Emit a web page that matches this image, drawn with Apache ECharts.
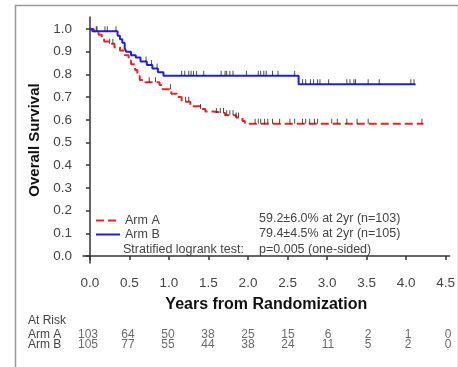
<!DOCTYPE html>
<html>
<head>
<meta charset="utf-8">
<script src="https://cdn.jsdelivr.net/npm/echarts@6/dist/echarts.min.js"></script>
<style>
  html, body { margin: 0; padding: 0; background: #fff; }
  #km { width: 458px; height: 367px; }
</style>
</head>
<body>
<div id="km"></div>
<script>
// Kaplan-Meier step points [years, survival]
var armA = [
  [0, 1], [0.05, 0.99], [0.11, 0.975], [0.15, 0.96], [0.18, 0.945], [0.25, 0.935],
  [0.31, 0.92], [0.38, 0.905], [0.44, 0.885], [0.49, 0.86], [0.52, 0.845],
  [0.57, 0.82], [0.60, 0.80], [0.63, 0.775], [0.70, 0.765], [0.88, 0.753],
  [0.92, 0.735], [1.03, 0.715], [1.10, 0.70], [1.16, 0.68], [1.27, 0.66],
  [1.40, 0.648], [1.46, 0.637], [1.56, 0.63], [1.71, 0.62], [1.85, 0.61],
  [1.93, 0.595], [1.96, 0.583], [4.22, 0.583]
];
var armB = [
  [0, 1], [0.03, 0.99], [0.35, 0.97], [0.38, 0.955], [0.41, 0.94], [0.44, 0.915],
  [0.46, 0.90], [0.52, 0.885], [0.58, 0.875], [0.64, 0.857], [0.72, 0.842],
  [0.79, 0.826], [0.86, 0.81], [0.93, 0.794], [2.64, 0.757], [4.12, 0.757]
];
// censored observation times (years)
var censorA = [0.08, 0.25, 0.29, 0.75, 0.83, 1.02, 1.21, 1.25, 1.40, 1.60, 1.65, 1.69,
  1.73, 1.77, 1.81, 1.85, 1.88, 2.09, 2.13, 2.16, 2.21, 2.25, 2.31, 2.40, 2.53, 2.59,
  2.69, 2.73, 2.78, 2.84, 2.88, 3.06, 3.13, 3.25, 3.38, 3.52, 4.20];
var censorB = [0.09, 0.19, 0.22, 0.33, 0.71, 0.78, 0.85, 1.16, 1.20, 1.25, 1.28, 1.31,
  1.35, 1.44, 1.66, 1.71, 1.73, 1.77, 1.81, 1.98, 2.13, 2.16, 2.20, 2.23, 2.31, 2.38,
  2.59, 2.69, 2.73, 2.79, 2.83, 2.88, 2.91, 3.02, 3.25, 3.29, 3.34, 3.36, 3.52, 3.66,
  4.06, 4.10];
// number at risk
var riskTimes = [0, 0.5, 1, 1.5, 2, 2.5, 3, 3.5, 4, 4.5];
var riskA = [103, 64, 50, 38, 25, 15, 6, 2, 1, 0];
var riskB = [105, 77, 55, 44, 38, 24, 11, 5, 2, 0];
var xTicks = [0, 0.5, 1, 1.5, 2, 2.5, 3, 3.5, 4, 4.5];
var yTicks = [0, 0.1, 0.2, 0.3, 0.4, 0.5, 0.6, 0.7, 0.8, 0.9, 1.0];

var font = "'Liberation Sans', Arial, sans-serif";
var axisColor = '#333';
var textColor = '#444';

function survAt(curve, t) {
  var s = curve[0][1];
  for (var i = 0; i < curve.length; i++) {
    if (curve[i][0] <= t) s = curve[i][1];
  }
  return s;
}

var chart = echarts.init(document.getElementById('km'));
var option = {
  animation: false,
  textStyle: { fontFamily: font },
  grid: [
    { left: 83, right: 4, top: 17, bottom: 104 },
    { left: 83, right: 4, top: 329, height: 21 }
  ],
  legend: {
    data: ['Arm A', 'Arm B'],
    orient: 'vertical',
    left: 90,
    top: 209,
    itemWidth: 24,
    itemHeight: 14,
    itemGap: 1,
    itemStyle: { opacity: 0 },
    textStyle: { fontSize: 12.5, color: textColor, fontFamily: font }
  },
  xAxis: [
    {
      gridIndex: 0,
      type: 'value',
      min: -0.0875,
      max: 4.55,
      axisLine: { show: true, lineStyle: { color: axisColor, width: 1.5 } },
      axisTick: { show: true, customValues: xTicks, length: 4, lineStyle: { color: axisColor, width: 1.5 } },
      axisLabel: {
        customValues: xTicks,
        formatter: function (v) { return v.toFixed(1); },
        fontSize: 13.5, color: textColor, margin: 13
      },
      splitLine: { show: false },
      name: 'Years from Randomization',
      nameLocation: 'middle',
      nameGap: 34,
      nameTextStyle: { fontWeight: 'bold', fontSize: 16, color: '#111' }
    },
    { gridIndex: 1, type: 'value', min: -0.0875, max: 4.55, show: false }
  ],
  yAxis: [
    {
      gridIndex: 0,
      type: 'value',
      min: -0.031,
      max: 1.053,
      axisLine: { show: true, lineStyle: { color: axisColor, width: 1.5 } },
      axisTick: { show: true, customValues: yTicks, length: 4, lineStyle: { color: axisColor, width: 1.5 } },
      axisLabel: {
        customValues: yTicks,
        formatter: function (v) { return v.toFixed(1); },
        fontSize: 13.5, color: textColor, margin: 11
      },
      splitLine: { show: false },
      name: 'Overall Survival',
      nameLocation: 'middle',
      nameGap: 37,
      nameTextStyle: { fontWeight: 'bold', fontSize: 15, color: '#111' }
    },
    {
      gridIndex: 1,
      type: 'category',
      data: ['Arm A', 'Arm B'],
      inverse: true,
      axisLine: { show: false },
      axisTick: { show: false },
      axisLabel: { interval: 0, align: 'left', margin: 55, fontSize: 12, color: textColor }
    }
  ],
  series: [
    {
      name: 'Arm A', type: 'line', step: 'end', symbol: 'none',
      data: armA,
      lineStyle: { color: '#e82424', width: 2, type: [8, 4] },
      itemStyle: { color: '#e82424' }
    },
    {
      name: 'Arm B', type: 'line', step: 'end', symbol: 'none',
      data: armB,
      lineStyle: { color: '#2020dc', width: 2 },
      itemStyle: { color: '#2020dc' }
    },
    {
      type: 'scatter', symbol: 'rect', symbolSize: [1, 5], symbolOffset: [0, -2.5],
      silent: true, z: 5,
      itemStyle: { color: '#222' },
      data: censorA.map(function (t) { return [t, survAt(armA, t)]; })
    },
    {
      type: 'scatter', symbol: 'rect', symbolSize: [1, 5], symbolOffset: [0, -2.5],
      silent: true, z: 5,
      itemStyle: { color: '#222' },
      data: censorB.map(function (t) { return [t, survAt(armB, t)]; })
    },
    {
      type: 'scatter', xAxisIndex: 1, yAxisIndex: 1, symbolSize: 0, silent: true,
      data: riskTimes.map(function (t, i) { return [t, 'Arm A', riskA[i]]; }),
      label: { show: true, position: 'inside', offset: [-2, 0], fontSize: 12, color: textColor,
        formatter: function (p) { return p.data[2]; } }
    },
    {
      type: 'scatter', xAxisIndex: 1, yAxisIndex: 1, symbolSize: 0, silent: true,
      data: riskTimes.map(function (t, i) { return [t, 'Arm B', riskB[i]]; }),
      label: { show: true, position: 'inside', offset: [-2, 0], fontSize: 12, color: textColor,
        formatter: function (p) { return p.data[2]; } }
    }
  ],
  graphic: [
    {
      type: 'rect', left: 13, top: 3, silent: true,
      shape: { width: 443, height: 400 },
      style: { fill: 'none', stroke: '#999', lineWidth: 1.5 }
    },
    { type: 'text', left: 123, top: 243, style: { text: 'Stratified logrank test:', fontSize: 12.5, fill: textColor, fontFamily: font } },
    { type: 'text', left: 259, top: 212, style: { text: '59.2\u00b16.0% at 2yr (n=103)', fontSize: 12.5, fill: textColor, fontFamily: font } },
    { type: 'text', left: 259, top: 227, style: { text: '79.4\u00b14.5% at 2yr (n=105)', fontSize: 12.5, fill: textColor, fontFamily: font } },
    { type: 'text', left: 259, top: 243, style: { text: 'p=0.005 (one-sided)', fontSize: 12.5, fill: textColor, fontFamily: font } },
    { type: 'text', left: 28, top: 315, style: { text: 'At Risk', fontSize: 12, fill: textColor, fontFamily: font } }
  ]
};
chart.setOption(option);
</script>
</body>
</html>
